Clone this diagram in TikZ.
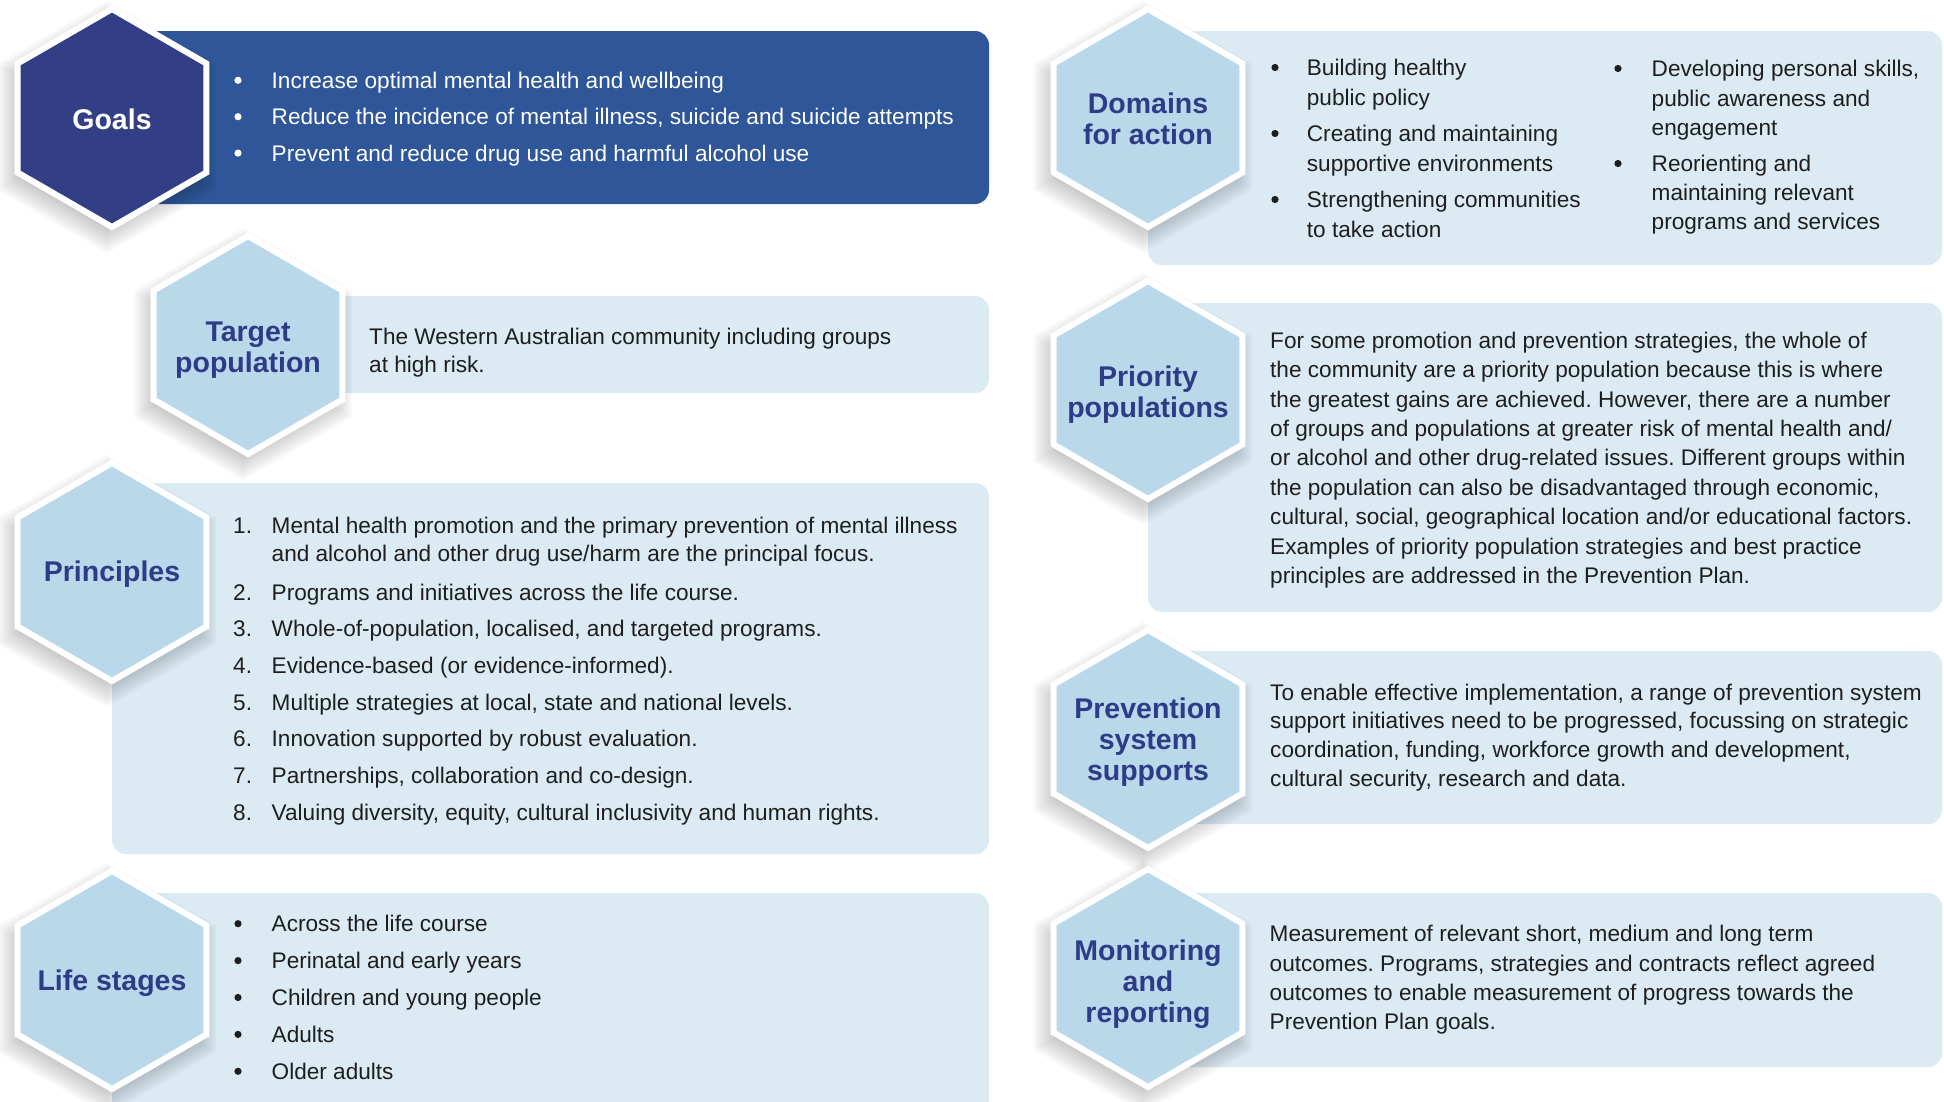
\documentclass[tikz,border=0pt]{standalone}
\usepackage{fontspec}
\setmainfont{Liberation Sans}
\frenchspacing
\definecolor{darkhex}{RGB}{51,63,133}
\definecolor{goalbox}{RGB}{46,86,152}
\definecolor{lighthex}{RGB}{185,216,234}
\definecolor{lightbox}{RGB}{220,234,244}
\definecolor{titlec}{RGB}{46,59,135}
\definecolor{bodyc}{RGB}{30,30,30}
\newcommand\hexfill[4][]{\path[#1] ({#2},{#3-#4}) -- ++({0.866*#4},{0.5*#4}) -- ++(0,{#4}) -- ++({-0.866*#4},{0.5*#4}) -- ++({-0.866*#4},{-0.5*#4}) -- ++(0,{-#4}) -- cycle;}
\newcommand\hexshadow[2]{\foreach \k in {0,...,9}{\pgfmathsetmacro\rr{102+2.7*\k}\hexfill[fill=black, fill opacity=0.024]{#1-5}{#2+9}{\rr}}}
\newcommand\hexcell[3]{\hexshadow{#1}{#2}\hexfill[fill=#3, draw=white, line width=6pt]{#1}{#2}{109}}
\begin{document}
\begin{tikzpicture}[x=1pt,y=-1pt,
  body/.style={font=\fontsize{22.6}{29.4}\selectfont, text=bodyc, anchor=base west, inner sep=0pt},
  gbody/.style={body, text=white},
  ttl/.style={font=\bfseries\fontsize{28.5}{30.8}\selectfont, text=titlec, align=center, inner sep=0pt},
  lbox/.style={fill=lightbox, rounded corners=14pt},
  bul/.style={fill=bodyc}]
\useasboundingbox (0,0) rectangle (1944,1101);
\clip (0,0) rectangle (1944,1101);
% boxes
\fill[goalbox, rounded corners=14pt] (112,31) rectangle (989,204);
\fill[lbox] (248,296) rectangle (989,393);
\fill[lbox] (112,483) rectangle (989,854);
\fill[lbox] (112,893) rectangle (989,1140);
\fill[lbox] (1148,31) rectangle (1942,265);
\fill[lbox] (1148,303) rectangle (1942,612);
\fill[lbox] (1148,651) rectangle (1942,824);
\fill[lbox] (1148,893) rectangle (1942,1067);
% hexagons
\hexcell{112}{118}{darkhex}
\hexcell{248}{345}{lighthex}
\hexcell{112}{572}{lighthex}
\hexcell{112}{980}{lighthex}
\hexcell{1148}{118}{lighthex}
\hexcell{1148}{390}{lighthex}
\hexcell{1148}{739}{lighthex}
\hexcell{1148}{978}{lighthex}
% titles
\node[ttl, text=white] (goals) at (112,119) {Goals};
\node[ttl] (target) at (248,350) {Target\\population};
\node[ttl] (principles) at (112,574) {Principles};
\node[ttl] (life) at (112,983) {Life stages};
\node[ttl] (domains) at (1148,118.5) {Domains\\for action};
\node[ttl] (priority) at (1148,395) {Priority\\populations};
\node[ttl] (prevention) at (1148,742) {Prevention\\system\\supports};
\node[ttl] (monitoring) at (1148,984) {Monitoring\\and\\reporting};
% goals
\foreach \t [count=\i from 0] in {Increase optimal mental health and wellbeing, Reduce the incidence of mental illness{,} suicide and suicide attempts, Prevent and reduce drug use and harmful alcohol use}{
  \fill[white] (238,{88.3+36.4*\i-8}) circle[radius=3.6];
  \node[gbody] (goal\i) at (271.5,{88.3+36.4*\i}) {\t};
}
% target
\node[body] (tp1) at (369,344) {The Western Australian community including groups};
\node[body] (tp2) at (369,372) {at high risk.};
% principles
\foreach \n/\y in {1/533.3, 2/600, 3/636.7, 4/673.3, 5/710, 6/746.7, 7/783.3, 8/820}{
  \node[body] (pn\n) at (233,\y) {\n.};
}
\node[body] (pr1) at (271.5,533.3) {Mental health promotion and the primary prevention of mental illness};
\node[body] (pr1b) at (271.5,561.7) {and alcohol and other drug use/harm are the principal focus.};
\node[body] (pr2) at (271.5,600) {Programs and initiatives across the life course.};
\node[body] (pr3) at (271.5,636.7) {Whole-of-population, localised, and targeted programs.};
\node[body] (pr4) at (271.5,673.3) {Evidence-based (or evidence-informed).};
\node[body] (pr5) at (271.5,710) {Multiple strategies at local, state and national levels.};
\node[body] (pr6) at (271.5,746.7) {Innovation supported by robust evaluation.};
\node[body] (pr7) at (271.5,783.3) {Partnerships, collaboration and co-design.};
\node[body] (pr8) at (271.5,820) {Valuing diversity, equity, cultural inclusivity and human rights.};
% life stages
\foreach \t [count=\i from 0] in {Across the life course, Perinatal and early years, Children and young people, Adults, Older adults}{
  \fill[bul] (238,{931.7+36.9*\i-8}) circle[radius=3.6];
  \node[body] (ls\i) at (271.5,{931.7+36.9*\i}) {\t};
}
% domains
\foreach \y in {75.5,141.5,207.5}{\fill[bul] (1275,\y-8) circle[radius=3.6];}
\foreach \y in {76.5,171.5}{\fill[bul] (1618,\y-8) circle[radius=3.6];}
\node[body] (d1) at (1306.7,75.5) {Building healthy};
\node[body] (d1b) at (1306.7,105.5) {public policy};
\node[body] (d2) at (1306.7,141.5) {Creating and maintaining};
\node[body] (d2b) at (1306.7,171.5) {supportive environments};
\node[body] (d3) at (1306.7,207.5) {Strengthening communities};
\node[body] (d3b) at (1306.7,237.5) {to take action};
\node[body] (d4) at (1651.5,76.5) {Developing personal skills,};
\node[body] (d4b) at (1651.5,106.5) {public awareness and};
\node[body] (d4c) at (1651.5,135.5) {engagement};
\node[body] (d5) at (1651.5,171.5) {Reorienting and};
\node[body] (d5b) at (1651.5,200.5) {maintaining relevant};
\node[body] (d5c) at (1651.5,229.5) {programs and services};
% priority
\foreach \t [count=\i from 0] in {{For some promotion and prevention strategies, the whole of},
 {the community are a priority population because this is where},
 {the greatest gains are achieved. However, there are a number},
 {of groups and populations at greater risk of mental health and/},
 {or alcohol and other drug-related issues. Different groups within},
 {the population can also be disadvantaged through economic,},
 {cultural, social, geographical location and/or educational factors.},
 {Examples of priority population strategies and best practice},
 {principles are addressed in the Prevention Plan.}}{
  \node[body] (pp\i) at (1270,{348.3+29.4*\i}) {\t};
}
% prevention
\foreach \t [count=\i from 0] in {{To enable effective implementation, a range of prevention system},
 {support initiatives need to be progressed, focussing on strategic},
 {coordination, funding, workforce growth and development,},
 {cultural security, research and data.}}{
  \node[body] (ps\i) at (1270,{700+28.9*\i}) {\t};
}
% monitoring
\foreach \t [count=\i from 0] in {{Measurement of relevant short, medium and long term},
 {outcomes. Programs, strategies and contracts reflect agreed},
 {outcomes to enable measurement of progress towards the},
 {Prevention Plan goals.}}{
  \node[body] (mr\i) at (1269.5,{941.7+29.4*\i}) {\t};
}
\end{tikzpicture}
\end{document}
